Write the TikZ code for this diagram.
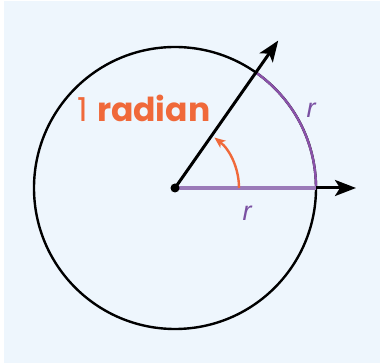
\documentclass[tikz,border=0pt]{standalone}
\usepackage{fontspec}
\setmainfont{Poppins}
\newfontfamily\rlabelfont{Liberation Sans}
\usepackage{xcolor}
\usetikzlibrary{arrows.meta, positioning, calc}
\definecolor{PanelBlue}{HTML}{EEF6FD}
\definecolor{RadOrange}{HTML}{F0693A}
\definecolor{ArcPurple}{HTML}{8A52AA}
\definecolor{RadPurple}{HTML}{9A7AB8}
\definecolor{LabelPurple}{HTML}{7A50A2}
\tikzset{
    % Line styles
    circleline/.style={
        draw=black,
        line width=2.4pt
    },
    rayarrow/.style={
        -{Stealth[length=21pt,width=16pt,inset=5pt]},
        line width=3pt,
        black
    },
    anglearrow/.style={
        -{Stealth[length=11pt,width=9pt,inset=3pt]},
        line width=2.4pt,
        RadOrange
    },
    arcline/.style={
        draw=ArcPurple,
        line width=2.4pt
    },
    radiusline/.style={
        draw=RadPurple,
        line width=3.6pt
    },
    % Text styles
    rlabel/.style={
        text=LabelPurple,
        font=\rlabelfont\itshape\fontsize{27}{27}\selectfont,
        inner sep=0pt
    },
    centerdot/.style={
        circle,
        fill=black,
        inner sep=0pt,
        minimum size=9pt
    }
}
\begin{document}
\begin{tikzpicture}[x=1pt, y=1pt]
    % Panel
    \useasboundingbox (0,0) rectangle (380,363);
    \fill[white] (0,0) rectangle (380,363);
    \fill[PanelBlue] (4,0) rectangle (380,362);

    % Center and ray tips
    \coordinate (O) at (175,175);
    \coordinate (tipA) at (356,175);
    \coordinate (tipB) at ($(O)+(55:180)$);
    \coordinate (arcA) at (316,175);

    % Circle
    \draw[circleline] (O) circle (141);

    % Arc of length r
    \draw[arcline] (arcA) arc (0:55:141);

    % Radii
    \draw[radiusline] (O) -- (arcA);
    \draw[rayarrow] (arcA) -- (tipA);
    \draw[rayarrow] (O) -- (tipB);

    % Angle arrow
    \draw[anglearrow] ($(O)+(64,0)$) arc (0:52:64);

    % Center point
    \node[centerdot] (center) at (O) {};

    % Labels
    \node[anchor=base, text=RadOrange, font=\fontsize{33}{33}\selectfont, inner sep=0pt] (radlabel) at (144,241) {1 \textbf{radian}};
    \node[rlabel] (rarc) at (311,253) {r};
    \node[rlabel] (rrad) at (247,150) {r};
\end{tikzpicture}
\end{document}
